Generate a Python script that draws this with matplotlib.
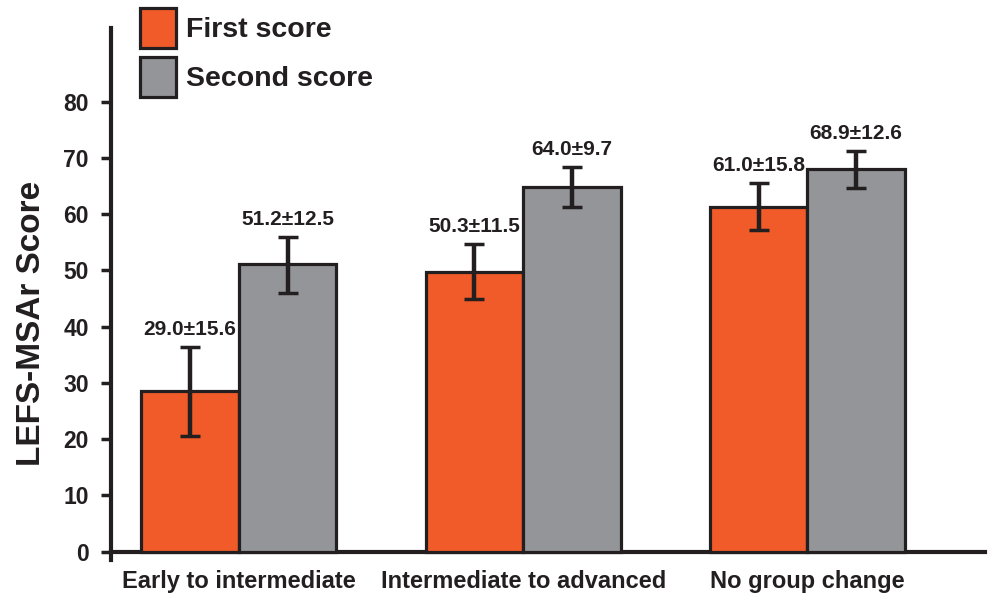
import matplotlib.pyplot as plt
import numpy as np

plt.rcParams['font.family'] = ['Liberation Sans', 'DejaVu Sans']
plt.rcParams['font.weight'] = 'bold'

# data
groups = ['Early to intermediate', 'Intermediate to advanced', 'No group change']
first_mean = [28.6, 49.8, 61.3]
first_err_lo = [20.6, 45.0, 57.2]
first_err_hi = [36.4, 54.7, 65.5]
second_mean = [51.1, 64.9, 68.0]
second_err_lo = [46.0, 61.2, 64.6]
second_err_hi = [55.9, 68.4, 71.3]
first_labels = ['29.0±15.6', '50.3±11.5', '61.0±15.8']
second_labels = ['51.2±12.5', '64.0±9.7', '68.9±12.6']

orange = '#F15A29'
gray = '#939598'
dark = '#231F20'

fig = plt.figure(figsize=(9.89, 5.96), dpi=100)
ax = fig.add_axes([0.1122, 0.0602, 0.8838, 0.8928])

x = np.arange(len(groups))
w = 0.343

for off, means, lo, hi, col, labs, name in [
        (-w / 2, first_mean, first_err_lo, first_err_hi, orange, first_labels, 'First score'),
        (w / 2, second_mean, second_err_lo, second_err_hi, gray, second_labels, 'Second score')]:
    ax.bar(x + off, means, w, color=col, edgecolor=dark, linewidth=2.3, label=name, zorder=2)
    means = np.array(means)
    yerr = [means - np.array(lo), np.array(hi) - means]
    ax.errorbar(x + off, means, yerr=yerr, fmt='none', ecolor=dark, elinewidth=3.2,
                capsize=7.5, capthick=2.5, zorder=3)
    for xi, h, t in zip(x + off, hi, labs):
        ax.text(xi, h + 2.1, t, ha='center', va='baseline', fontsize=15, fontweight='bold',
                color=dark)

ax.set_xlim(-0.45, 2.625)
ax.set_ylim(-1.5, 93.1)
ax.set_yticks(range(0, 81, 10))
ax.set_xticks(x)
ax.set_xticklabels(groups)

for s in ['top', 'right']:
    ax.spines[s].set_visible(False)
ax.spines['bottom'].set_position(('data', 0))
ax.spines['bottom'].set_linewidth(3)
ax.spines['left'].set_linewidth(3)
ax.spines['bottom'].set_color(dark)
ax.spines['left'].set_color(dark)
ax.spines['bottom'].set_zorder(1)

ax.tick_params(axis='y', length=7, width=2.5, pad=9, labelsize=16.5, colors=dark)
ax.tick_params(axis='x', length=0, pad=13, labelsize=17, colors=dark)
for lab in ax.get_yticklabels() + ax.get_xticklabels():
    lab.set_fontweight('bold')

ax.set_ylabel('LEFS-MSAr Score', fontsize=24, fontweight='bold', color=dark)
ax.yaxis.set_label_coords(-0.073, 0.444)

leg = ax.legend(loc='upper left', bbox_to_anchor=(140 / 989, 1 - 8 / 596),
                bbox_transform=fig.transFigure, frameon=False, fontsize=20.5,
                handlelength=1.27, handleheight=1.8, labelspacing=0.3,
                handletextpad=0.35, borderpad=0, borderaxespad=0)
for t in leg.get_texts():
    t.set_fontweight('bold')
    t.set_color(dark)

fig.savefig('out.png', dpi=100)
